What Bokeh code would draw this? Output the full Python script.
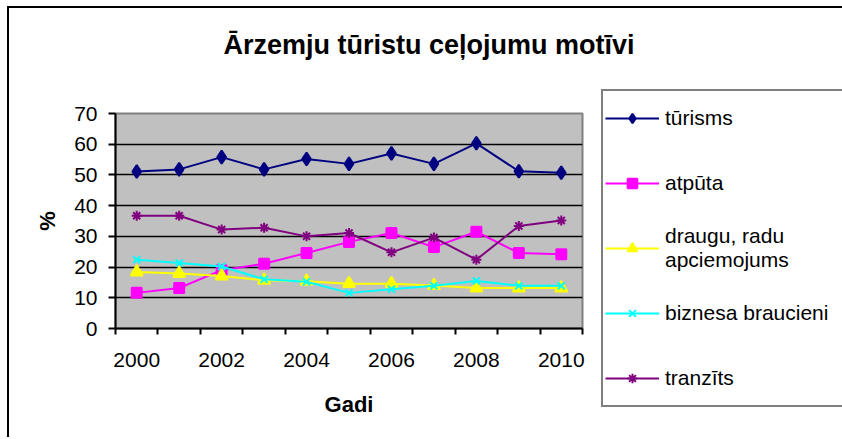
from bokeh.plotting import figure
from bokeh.models import FixedTicker, Legend, LegendItem, Range1d
from bokeh.embed import file_html
from bokeh.resources import INLINE

years = [2000, 2001, 2002, 2003, 2004, 2005, 2006, 2007, 2008, 2009, 2010]
turisms = [51.1, 51.8, 55.8, 51.8, 55.2, 53.6, 57.0, 53.6, 60.3, 51.2, 50.7]
atputa = [11.6, 13.2, 19.0, 21.1, 24.6, 28.2, 31.1, 26.5, 31.5, 24.6, 24.2]
draugu = [18.4, 17.9, 17.1, 15.7, 15.4, 14.6, 14.6, 14.0, 13.2, 13.2, 13.2]
biznesa = [22.4, 21.3, 20.2, 16.0, 15.2, 11.6, 12.8, 13.9, 15.5, 13.9, 13.9]
tranzits = [36.7, 36.7, 32.2, 32.8, 30.0, 31.1, 24.8, 29.6, 22.4, 33.4, 35.2]

series_names = ["tūrisms", "atpūta", "draugu, radu\napciemojums", "biznesa braucieni", "tranzīts"]
x_tick_labels = [2000, 2002, 2004, 2006, 2008, 2010]
y_ticks = [0, 10, 20, 30, 40, 50, 60, 70]

FONT = "Liberation Sans"

# chart-area border (top and left edges visible, the rest lies beyond the window)
border_css = ("linear-gradient(#000, #000) 7px 6px / 2px 100% no-repeat, "
              "linear-gradient(#000, #000) 7px 6px / 100% 2px no-repeat, #ffffff")

p = figure(frame_width=467, frame_height=215,
           min_border_left=115, min_border_top=113, min_border_right=258, min_border_bottom=109,
           x_range=Range1d(1999.5, 2010.5), y_range=Range1d(0, 70),
           output_backend="svg", toolbar_location=None,
           styles={"background": border_css})

p.background_fill_color = "#C0C0C0"
p.border_fill_alpha = 0
p.outline_line_color = "#808080"
p.outline_line_width = 2

# title (second, blank line keeps the title high above the plot area)
p.title.text = "Ārzemju tūristu ceļojumu motīvi\n "
p.title.align = "left"
p.title.offset = 108
p.title.standoff = 47
p.title.text_font = FONT
p.title.text_font_size = "27px"
p.title.text_font_style = "bold"
p.title.text_color = "black"

# axes
p.xaxis.ticker = FixedTicker(ticks=x_tick_labels, minor_ticks=[y - 0.5 for y in years] + [years[-1] + 0.5])
p.xaxis.major_tick_out = 0
p.xaxis.major_tick_in = 0
p.xaxis.minor_tick_out = 6
p.xaxis.minor_tick_in = 0
p.xaxis.minor_tick_line_color = "black"
p.xaxis.minor_tick_line_width = 2
p.xaxis.major_label_standoff = 18
p.xaxis.axis_label = "Gadi"
p.xaxis.axis_label_standoff = 22

p.yaxis.ticker = FixedTicker(ticks=y_ticks)
p.yaxis.major_tick_out = 7
p.yaxis.major_tick_in = 0
p.yaxis.minor_tick_out = 0
p.yaxis.minor_tick_in = 0
p.yaxis.major_label_standoff = 11
p.yaxis.axis_label = "%"
p.yaxis.axis_label_standoff = 11

for ax in (p.xaxis[0], p.yaxis[0]):
    ax.axis_line_color = "black"
    ax.axis_line_width = 2
    ax.major_tick_line_color = "black"
    ax.major_tick_line_width = 2
    ax.major_label_text_font = FONT
    ax.major_label_text_font_size = "21px"
    ax.major_label_text_color = "black"
    ax.axis_label_text_font = FONT
    ax.axis_label_text_font_size = "22px"
    ax.axis_label_text_font_style = "bold"
    ax.axis_label_text_color = "black"

p.xgrid.visible = False
p.ygrid.ticker = FixedTicker(ticks=[10, 20, 30, 40, 50, 60])
p.ygrid.grid_line_color = "black"
p.ygrid.grid_line_width = 1.5

data = [turisms, atputa, draugu, biznesa, tranzits]
colors = ["#000080", "#FF00FF", "#FFFF00", "#00FFFF", "#800080"]
markers = ["diamond", "square", "triangle", "x", "asterisk"]
sizes = [13, 10, 12, 10, 10]

items = []
for name, vals, col, mk, sz in zip(series_names, data, colors, markers, sizes):
    l = p.line(years, vals, line_color=col, line_width=2)
    s = p.scatter(years, vals, marker=mk, size=sz, fill_color=col, line_color=col, line_width=2)
    items.append(LegendItem(label=name, renderers=[l, s]))

legend = Legend(items=items, location=(19, -79),
                border_line_color="black", border_line_width=2,
                background_fill_color="white", background_fill_alpha=1,
                label_text_font=FONT, label_text_font_size="21px", label_text_color="black",
                glyph_width=54, glyph_height=24, label_height=50, label_width=178, label_standoff=6,
                spacing=15, padding=2, margin=0)
p.add_layout(legend, "right")

open("out.html", "w").write(file_html(p, INLINE))
